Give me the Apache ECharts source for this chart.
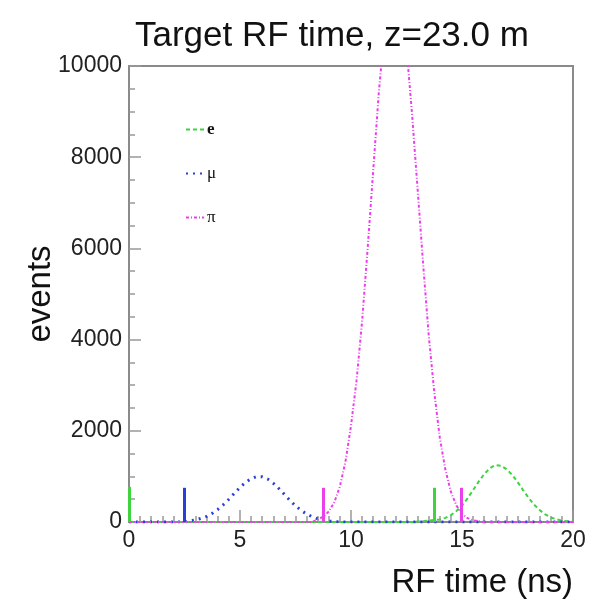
<!DOCTYPE html>
<html>
<head>
<meta charset="utf-8">
<script src="https://cdn.jsdelivr.net/npm/echarts@6/dist/echarts.min.js"></script>
<style>
html,body{margin:0;padding:0;background:#fff;}
#c{width:605px;height:599px;}
</style>
</head>
<body>
<div id="c"></div>
<script>
// bin positions (ns)
const times = [0,0.25,0.5,0.75,1,1.25,1.5,1.75,2,2.25,2.5,2.75,3,3.25,3.5,3.75,4,4.25,4.5,4.75,5,5.25,5.5,5.75,6,6.25,6.5,6.75,7,7.25,7.5,7.75,8,8.25,8.5,8.75,9,9.25,9.5,9.75,10,10.25,10.5,10.75,11,11.25,11.5,11.75,12,12.25,12.5,12.75,13,13.25,13.5,13.75,14,14.25,14.5,14.75,15,15.25,15.5,15.75,16,16.25,16.5,16.75,17,17.25,17.5,17.75,18,18.25,18.5,18.75,19,19.25,19.5,19.75,20];

// electrons
const eVals = [0,0,0,0,0,0,0,0,0,0,0,0,0,0,0,0,0,0,0,0,0,0,0,0,0,0,0,0,0,0,0,0,0,0,0,0,0,0,0,0,0,0,0,0,0,0,0,0,0,0,0,0,10,15,30,45,55,90,150,240,360,520,700,885,1050,1180,1250,1235,1160,1040,880,700,530,380,260,165,100,60,30,15,5];
// muons
const muVals = [0,0,0,0,0,0,0,0,0,0,0,25,45,80,125,190,275,380,500,630,760,870,950,995,990,940,850,735,605,475,355,255,175,115,70,40,20,10,5,0,0,0,0,0,0,0,0,0,0,0,0,0,0,0,0,0,0,0,0,0,0,0,0,0,0,0,0,0,0,0,0,0,0,0,0,0,0,0,0,0,0];
// pions
const piVals = [0,0,0,0,0,0,0,0,0,0,0,0,0,0,0,0,0,0,0,0,0,0,0,0,0,0,0,0,0,0,0,0,0,0,55,115,230,435,780,1320,2110,3100,4400,6000,7700,9400,10750,11600,11800,11400,10400,8950,7300,5650,4100,2850,1850,1150,660,360,180,85,40,15,0,0,0,0,0,0,0,0,0,0,0,0,0,0,0,0,0];

// RF bucket markers (time, height)
const eMarkT = [0, 13.74];
const eMarkH = [770, 750];
const muMarkT = [2.48];
const muMarkH = [750];
const piMarkT = [8.76, 14.97];
const piMarkH = [750, 750];

const names = ['e', 'μ', 'π'];
const yTicks = [0, 2000, 4000, 6000, 8000, 10000];

function pairs(v){ return times.map((t,i)=>[t, v[i]]); }
function marks(T,H){ return T.map((t,i)=>[{coord:[t,0]},{coord:[t,H[i]]}]); }

const green = '#3fd43f', blue = '#2a3fd8', pink = '#ea3fea';

const chart = echarts.init(document.getElementById('c'), null, {renderer:'canvas'});
chart.setOption({
  animation:false,
  backgroundColor:'#fff',
  title:{
    text:'Target RF time, z=23.0 m',
    left:130, top:14,
    textStyle:{fontFamily:'Liberation Sans, Arial, sans-serif', fontSize:35, fontWeight:'normal', color:'#111'}
  },
  legend:{
    orient:'vertical', left:180, top:116,
    itemWidth:18, itemHeight:10, itemGap:27,
    data:[
      {name:names[0], textStyle:{fontWeight:'bold'}},
      {name:names[1]},
      {name:names[2]}
    ],
    itemStyle:{opacity:0},
    textStyle:{fontFamily:'Liberation Serif, DejaVu Serif, serif', fontSize:17, color:'#111', lineHeight:17, padding:[0,0,0,-2]}
  },
  grid:{left:129, right:32, top:66, bottom:77, show:true, borderColor:'#8a8a8a', borderWidth:2, backgroundColor:'transparent'},
  xAxis:{
    type:'value', min:0, max:20, interval:5,
    name:'RF time (ns)', nameLocation:'end', nameGap:0, nameMoveOverlap:false,
    nameTextStyle:{fontFamily:'Liberation Sans, Arial, sans-serif', fontSize:33, color:'#111', align:'right', verticalAlign:'top', padding:[44,0,0,0]},
    axisLine:{show:true, lineStyle:{color:'#8a8a8a', width:2}},
    axisTick:{show:true, inside:true, length:12, lineStyle:{color:'#999', width:1.5}},
    minorTick:{show:true, splitNumber:10, length:6, lineStyle:{color:'#999', width:1.5}},
    splitLine:{show:false},
    axisLabel:{fontFamily:'Liberation Sans, Arial, sans-serif', fontSize:23, color:'#222', margin:7}
  },
  yAxis:{
    type:'value', min:0, max:10000, interval:2000,
    name:'events', nameLocation:'middle', nameGap:72, nameRotate:90, nameMoveOverlap:false,
    nameTextStyle:{fontFamily:'Liberation Sans, Arial, sans-serif', fontSize:33, color:'#111'},
    axisLine:{show:true, lineStyle:{color:'#8a8a8a', width:2}},
    axisTick:{show:true, inside:true, length:12, lineStyle:{color:'#999', width:1.5}},
    minorTick:{show:true, splitNumber:4, length:6, lineStyle:{color:'#999', width:1.5}},
    splitLine:{show:false},
    axisLabel:{fontFamily:'Liberation Sans, Arial, sans-serif', fontSize:23, color:'#222', margin:7,
      formatter:function(v){ return yTicks.indexOf(v)>=0 ? String(v) : ''; }}
  },
  series:[
    {name:names[0], type:'line', data:pairs(eVals), symbol:'none', clip:true, color:green,
     lineStyle:{color:green, width:2, type:[4,3]},
     markLine:{silent:true, symbol:'none', label:{show:false}, lineStyle:{color:green, width:3, type:'solid'}, data:marks(eMarkT,eMarkH)}},
    {name:names[1], type:'line', data:pairs(muVals), symbol:'none', clip:true, color:blue,
     lineStyle:{color:blue, width:3, type:[2,5]},
     markLine:{silent:true, symbol:'none', label:{show:false}, lineStyle:{color:blue, width:3, type:'solid'}, data:marks(muMarkT,muMarkH)}},
    {name:names[2], type:'line', data:pairs(piVals), symbol:'none', clip:true, color:pink,
     lineStyle:{color:pink, width:2, type:[3,2,1,2]},
     markLine:{silent:true, symbol:'none', label:{show:false}, lineStyle:{color:pink, width:3, type:'solid'}, data:marks(piMarkT,piMarkH)}}
  ]
});
</script>
</body>
</html>
